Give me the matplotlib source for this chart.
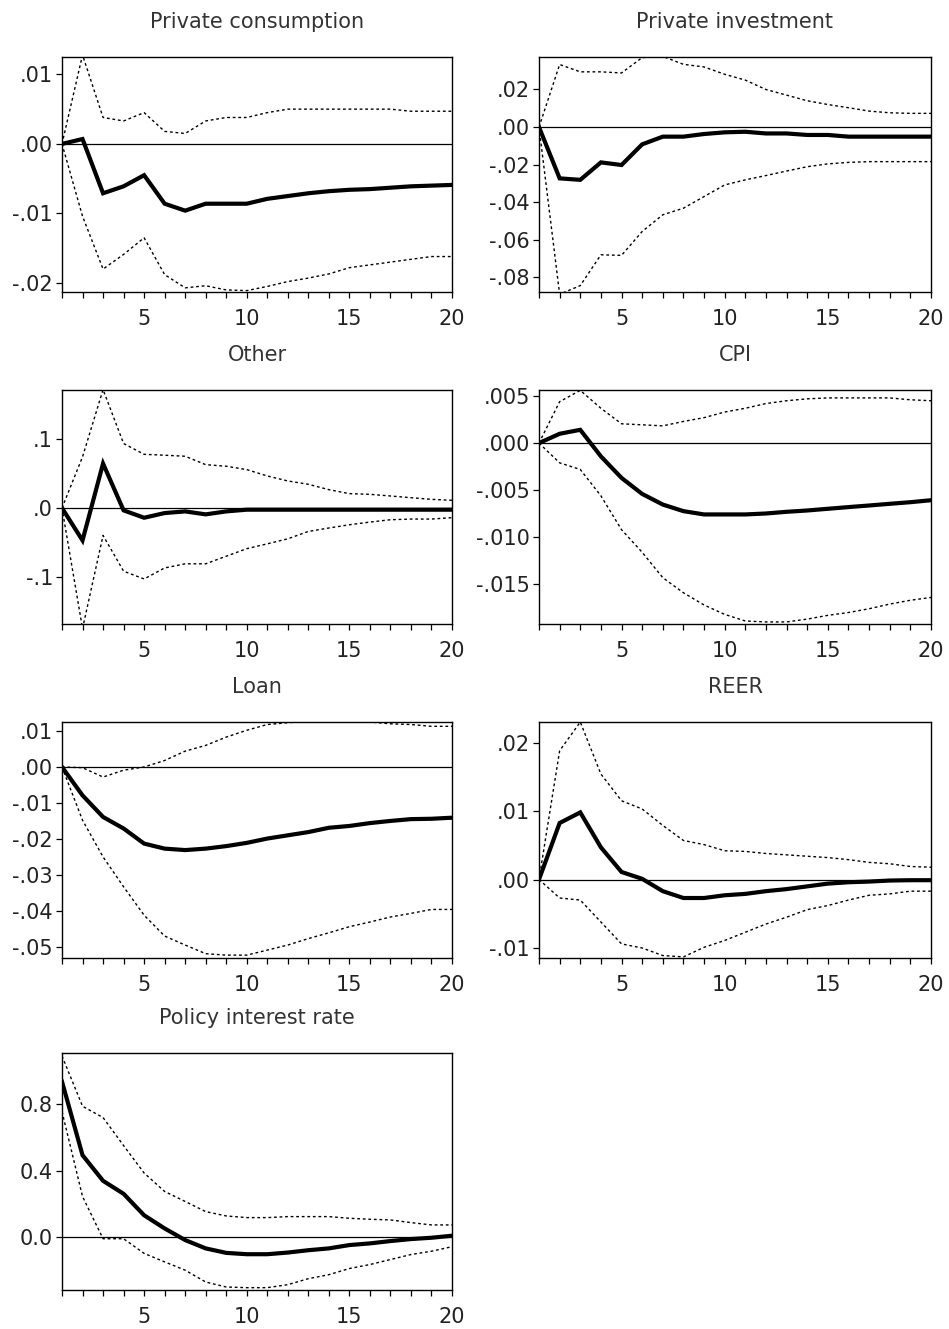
# Impulse responses to a policy rate shock, with +/- 2 S.E. bands (EViews style)

import matplotlib.pyplot as plt
import numpy as np

periods = np.arange(1, 21)

titles = ['Private consumption', 'Private investment', 'Other', 'CPI',
          'Loan', 'REER', 'Policy interest rate']

cons_irf = [0.0, 0.0007, -0.0071, -0.0061, -0.0045, -0.0086, -0.0096, -0.0086, -0.0086, -0.0086,
            -0.0079, -0.0075, -0.0071, -0.0068, -0.0066, -0.0065, -0.0063, -0.0061, -0.0060, -0.0059]
cons_hi = [0.0, 0.0128, 0.0038, 0.0033, 0.0045, 0.0018, 0.0015, 0.0033, 0.0038, 0.0038,
           0.0045, 0.0050, 0.0050, 0.0050, 0.0050, 0.0050, 0.0050, 0.0047, 0.0047, 0.0047]
cons_lo = [0.0, -0.0104, -0.0180, -0.0159, -0.0135, -0.0188, -0.0207, -0.0204, -0.0210, -0.0211,
           -0.0205, -0.0198, -0.0193, -0.0187, -0.0178, -0.0174, -0.0170, -0.0166, -0.0162, -0.0162]

inv_irf = [0.0, -0.0273, -0.0281, -0.0188, -0.0202, -0.0092, -0.0051, -0.0051, -0.0037, -0.0028,
           -0.0025, -0.0034, -0.0034, -0.0042, -0.0042, -0.0051, -0.0051, -0.0051, -0.0051, -0.0051]
inv_hi = [0.0, 0.0333, 0.0294, 0.0294, 0.0288, 0.0370, 0.0376, 0.0334, 0.0320, 0.0281,
          0.0250, 0.0200, 0.0170, 0.0140, 0.0120, 0.0103, 0.0085, 0.0076, 0.0073, 0.0073]
inv_lo = [0.0, -0.0890, -0.0844, -0.0680, -0.0683, -0.0556, -0.0467, -0.0432, -0.0370, -0.0308,
          -0.0281, -0.0258, -0.0234, -0.0211, -0.0196, -0.0188, -0.0184, -0.0184, -0.0184, -0.0184]

oth_irf = [0.0, -0.047, 0.0646, -0.0034, -0.0141, -0.0073, -0.0049, -0.0092, -0.0049, -0.0024,
           -0.0024, -0.0024, -0.0024, -0.0024, -0.0024, -0.0024, -0.0024, -0.0024, -0.0024, -0.0024]
oth_hi = [0.0, 0.0743, 0.1720, 0.0937, 0.0780, 0.0767, 0.0752, 0.0630, 0.0607, 0.0558,
          0.0466, 0.0393, 0.0345, 0.0267, 0.0209, 0.0199, 0.0175, 0.0150, 0.0126, 0.0112]
oth_lo = [0.0, -0.1750, -0.0398, -0.0917, -0.1030, -0.0870, -0.0810, -0.0810, -0.0700, -0.0590,
          -0.0520, -0.0447, -0.0340, -0.0290, -0.0243, -0.0204, -0.0170, -0.0160, -0.0160, -0.0140]

cpi_irf = [0.0, 0.00099, 0.00141, -0.00141, -0.0037, -0.0054, -0.00653, -0.00723, -0.00758, -0.00758,
           -0.00758, -0.00748, -0.0073, -0.00716, -0.00698, -0.0068, -0.00663, -0.00645, -0.00628, -0.00607]
cpi_hi = [0.0, 0.0044, 0.0056, 0.0037, 0.00205, 0.00194, 0.00183, 0.0023, 0.0027, 0.0033,
          0.0037, 0.0042, 0.0045, 0.0047, 0.0048, 0.0048, 0.0048, 0.0048, 0.0046, 0.0045]
cpi_lo = [0.0, -0.0021, -0.0028, -0.0056, -0.0092, -0.0116, -0.0143, -0.0159, -0.0172, -0.0182,
          -0.0189, -0.0190, -0.0190, -0.0187, -0.0183, -0.0180, -0.0176, -0.0171, -0.0167, -0.0164]

loan_irf = [0.0, -0.0079, -0.0139, -0.0171, -0.0213, -0.0227, -0.0231, -0.0227, -0.0220, -0.0211,
            -0.0199, -0.0190, -0.0181, -0.0169, -0.0164, -0.0156, -0.0150, -0.0145, -0.0144, -0.0141]
loan_hi = [0.0, -0.0002, -0.0028, -0.0009, 0.0, 0.0018, 0.0044, 0.0060, 0.0083, 0.0102,
           0.0118, 0.0123, 0.0127, 0.0127, 0.0125, 0.0125, 0.0120, 0.0118, 0.0113, 0.0113]
loan_lo = [0.0, -0.0148, -0.0250, -0.0333, -0.0412, -0.0470, -0.0495, -0.0519, -0.0523, -0.0523,
           -0.0509, -0.0495, -0.0477, -0.0461, -0.0444, -0.0431, -0.0417, -0.0407, -0.0396, -0.0396]

reer_irf = [0.0, 0.00825, 0.0098, 0.0047, 0.0011, 0.0001, -0.0017, -0.0027, -0.0027, -0.0023,
            -0.0021, -0.0017, -0.0014, -0.0010, -0.0006, -0.0004, -0.0003, -0.00015, -0.0001, -0.0001]
reer_hi = [0.0, 0.0188, 0.0230, 0.0154, 0.0115, 0.0103, 0.0079, 0.0057, 0.0051, 0.0042,
           0.0041, 0.0038, 0.0036, 0.0034, 0.0032, 0.0029, 0.0025, 0.0023, 0.0019, 0.0018]
reer_lo = [0.0, -0.0027, -0.0030, -0.0062, -0.0094, -0.0100, -0.0111, -0.0113, -0.0099, -0.0089,
           -0.0077, -0.0065, -0.0055, -0.0044, -0.0038, -0.0030, -0.0023, -0.0021, -0.0017, -0.0017]

rate_irf = [0.936, 0.494, 0.340, 0.262, 0.133, 0.054, -0.016, -0.066, -0.093, -0.101,
            -0.101, -0.091, -0.077, -0.066, -0.046, -0.036, -0.022, -0.010, -0.002, 0.010]
rate_hi = [1.09, 0.788, 0.720, 0.552, 0.387, 0.276, 0.216, 0.155, 0.129, 0.119,
           0.119, 0.125, 0.125, 0.125, 0.115, 0.109, 0.105, 0.089, 0.075, 0.075]
rate_lo = [0.756, 0.246, -0.008, -0.008, -0.096, -0.147, -0.197, -0.268, -0.298, -0.302,
           -0.302, -0.284, -0.248, -0.224, -0.187, -0.163, -0.133, -0.103, -0.083, -0.056]

irfs = [cons_irf, inv_irf, oth_irf, cpi_irf, loan_irf, reer_irf, rate_irf]
highs = [cons_hi, inv_hi, oth_hi, cpi_hi, loan_hi, reer_hi, rate_hi]
lows = [cons_lo, inv_lo, oth_lo, cpi_lo, loan_lo, reer_lo, rate_lo]

y_ticks = [
    [-0.02, -0.01, 0.00, 0.01],
    [-0.08, -0.06, -0.04, -0.02, 0.00, 0.02],
    [-0.1, 0.0, 0.1],
    [-0.015, -0.010, -0.005, 0.000, 0.005],
    [-0.05, -0.04, -0.03, -0.02, -0.01, 0.00, 0.01],
    [-0.01, 0.00, 0.01, 0.02],
    [0.0, 0.4, 0.8],
]
y_labels = [
    ['-.02', '-.01', '.00', '.01'],
    ['-.08', '-.06', '-.04', '-.02', '.00', '.02'],
    ['-.1', '.0', '.1'],
    ['-.015', '-.010', '-.005', '.000', '.005'],
    ['-.05', '-.04', '-.03', '-.02', '-.01', '.00', '.01'],
    ['-.01', '.00', '.01', '.02'],
    ['0.0', '0.4', '0.8'],
]
y_limits = [(-0.0213, 0.0125), (-0.0878, 0.0373), (-0.1684, 0.1714), (-0.01922, 0.00564),
            (-0.0531, 0.0125), (-0.01146, 0.0230), (-0.316, 1.108)]

W, H = 949, 1329
col_left = [62, 539]
col_width = [390, 392]
row_top = [57, 390, 722, 1053]
row_height = [235, 234, 236, 237]

plt.rcParams['font.family'] = 'DejaVu Sans'
plt.rcParams['font.size'] = 15

fig = plt.figure(figsize=(W / 100, H / 100), dpi=100)

for i in range(7):
    r, c = divmod(i, 2)
    ax = fig.add_axes([col_left[c] / W, 1 - (row_top[r] + row_height[r]) / H,
                       col_width[c] / W, row_height[r] / H])
    ax.axhline(0, color='black', lw=0.9)
    ax.plot(periods, highs[i], color='black', lw=1.0, linestyle=(0, (2, 2)))
    ax.plot(periods, lows[i], color='black', lw=1.0, linestyle=(0, (2, 2)))
    ax.plot(periods, irfs[i], color='black', lw=3.0, solid_joinstyle='miter')
    ax.set_xlim(1, 20)
    ax.set_ylim(*y_limits[i])
    ax.set_xticks([5, 10, 15, 20])
    ax.set_xticks(periods, minor=True)
    ax.set_yticks(y_ticks[i])
    ax.set_yticklabels(y_labels[i])
    ax.tick_params(axis='x', which='both', direction='out', length=4.5, width=0.9,
                   pad=8, labelsize=15, colors='black', labelcolor='#222222')
    ax.tick_params(axis='y', direction='out', length=4.5, width=0.9, pad=2,
                   labelsize=15, labelcolor='#222222')
    for s in ax.spines.values():
        s.set_linewidth(1.0)
    ax.set_title(titles[i], pad=21, fontsize=15, color='#333333')

plt.savefig('out.png', dpi=100)
